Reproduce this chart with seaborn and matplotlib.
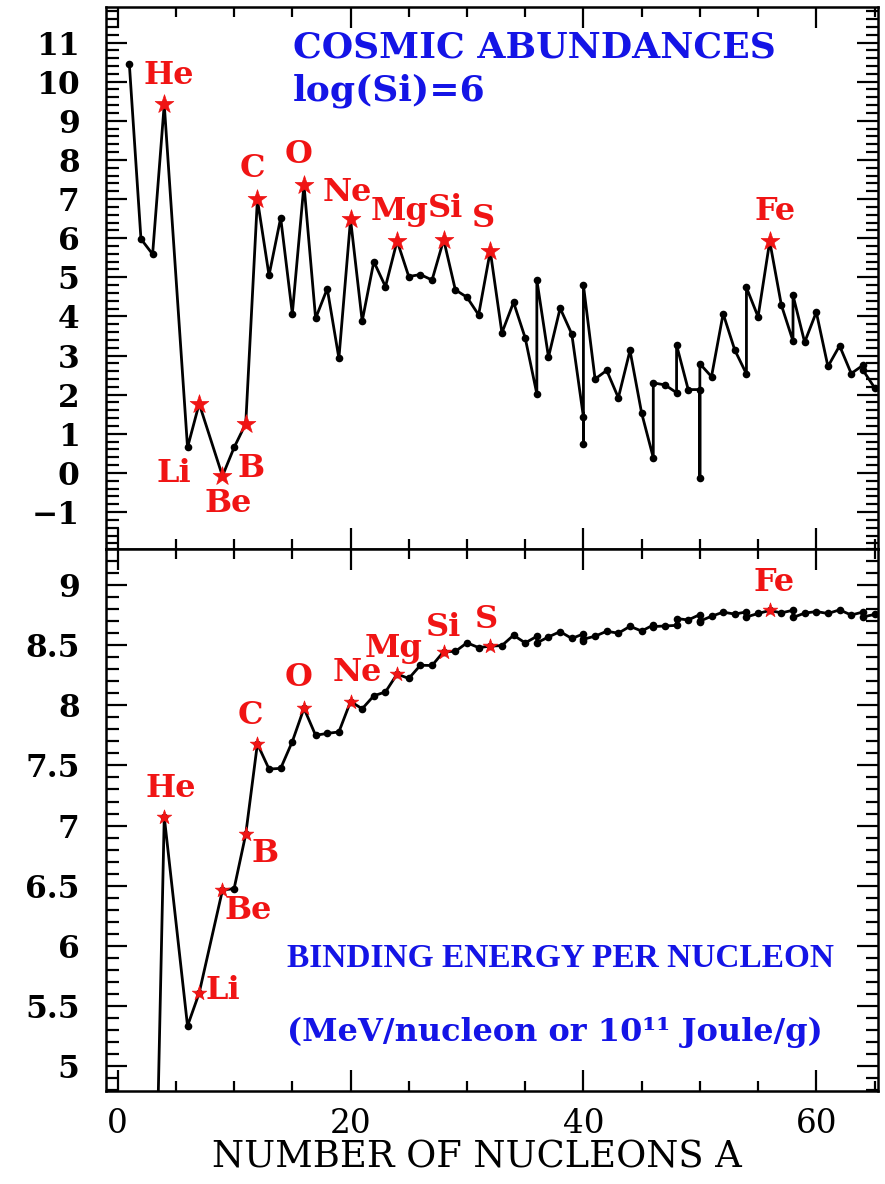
import numpy as np
import pandas as pd
import matplotlib
matplotlib.use('Agg')
import matplotlib.pyplot as plt
from matplotlib.ticker import MultipleLocator, FuncFormatter
import seaborn as sns

# mass number A (several isobars share one A)
mass_number = [1, 2, 3, 4, 6, 7, 9, 10, 11, 12, 13, 14, 15, 16, 17, 18, 19, 20,
               21, 22, 23, 24, 25, 26, 27, 28, 29, 30, 31, 32, 33, 34, 35, 36, 36,
               37, 38, 39, 40, 40, 40, 41, 42, 43, 44, 45, 46, 46, 47, 48, 48, 49,
               50, 50, 50, 51, 52, 53, 54, 54, 55, 56, 57, 58, 58, 59, 60, 61, 62,
               63, 64, 64, 65]

# cosmic abundance, log scale with log(Si)=6
log_abundance = [10.46, 5.98, 5.59, 9.42, 0.65, 1.77, -0.08, 0.65, 1.26, 6.99,
                 5.05, 6.52, 4.07, 7.37, 3.95, 4.71, 2.93, 6.48, 3.88, 5.40,
                 4.76, 5.93, 5.02, 5.07, 4.93, 5.96, 4.68, 4.49, 4.04, 5.67,
                 3.58, 4.36, 3.45, 2.02, 4.93, 2.96, 4.21, 3.55, 1.43, 0.75,
                 4.80, 2.40, 2.62, 1.92, 3.13, 1.53, 0.39, 2.30, 2.25, 2.05,
                 3.27, 2.13, 2.13, -0.14, 2.79, 2.46, 4.07, 3.14, 2.53, 4.74,
                 3.99, 5.92, 4.29, 3.37, 4.54, 3.34, 4.11, 2.72, 3.25, 2.54,
                 2.75, 2.63, 2.18]

# binding energy per nucleon (MeV)
binding_energy = [0.0, 1.112, 2.573, 7.074, 5.332, 5.606, 6.463, 6.475, 6.928, 7.680,
                  7.470, 7.476, 7.699, 7.976, 7.751, 7.767, 7.779, 8.032, 7.972, 8.080,
                  8.112, 8.261, 8.224, 8.334, 8.332, 8.448, 8.449, 8.521, 8.481, 8.493,
                  8.498, 8.584, 8.520, 8.575, 8.520, 8.570, 8.614, 8.557, 8.595, 8.538,
                  8.551, 8.576, 8.617, 8.601, 8.658, 8.619, 8.669, 8.656, 8.661, 8.666,
                  8.723, 8.711, 8.756, 8.696, 8.701, 8.742, 8.776, 8.760, 8.778, 8.736,
                  8.765, 8.790, 8.770, 8.792, 8.732, 8.768, 8.781, 8.765, 8.795, 8.752,
                  8.777, 8.736, 8.757]

elements = ['He', 'Li', 'Be', 'B', 'C', 'O', 'Ne', 'Mg', 'Si', 'S', 'Fe']
element_A = [4, 7, 9, 11, 12, 16, 20, 24, 28, 32, 56]

# label offsets in points (top panel, bottom panel)
offsets_top = [(3.6, 20.5), (-18.5, -50), (4, -19.5), (3.8, -32), (-3.6, 22.5),
               (-4, 21.8), (-2.4, 19.3), (1.5, 21.3), (1.5, 22.5), (-4.8, 23.3), (3.6, 21.3)]
offsets_bot = [(4.8, 20.3), (17.3, 2), (18.7, -14.4), (14.2, -14), (-4.8, 20.3),
               (-4, 22.3), (4.8, 20.8), (-2.4, 18.5), (0, 17), (-2.4, 19), (3, 20)]

RED = '#f01414'
BLUE = '#1414e6'

sns.set_style('ticks')
plt.rcParams['font.family'] = ['DejaVu Serif']
plt.rcParams['axes.unicode_minus'] = True
plt.rcParams['text.color'] = 'black'
plt.rcParams['axes.labelcolor'] = 'black'
plt.rcParams['xtick.color'] = 'black'
plt.rcParams['ytick.color'] = 'black'
plt.rcParams['axes.edgecolor'] = 'black'

df = pd.DataFrame({'A': mass_number, 'abund': log_abundance, 'bind': binding_energy})
stars = pd.DataFrame({'el': elements, 'A': element_A})
stars['abund'] = [df.loc[df.A == a, 'abund'].iloc[0] for a in element_A]
stars['bind'] = [df.loc[df.A == a, 'bind'].iloc[0] for a in element_A]

fig, (ax1, ax2) = plt.subplots(2, 1, figsize=(8.85, 11.84), dpi=100, sharex=True)
fig.subplots_adjust(left=0.1198, right=0.9921, top=0.9938, bottom=0.0785, hspace=0)

for ax, col, offs, ssize in ((ax1, 'abund', offsets_top, 200), (ax2, 'bind', offsets_bot, 120)):
    sns.lineplot(data=df, x='A', y=col, ax=ax, sort=False, estimator=None,
                 color='black', linewidth=2, marker='o', markersize=5.5,
                 markeredgewidth=0)
    sns.scatterplot(data=stars, x='A', y=col, ax=ax, marker='*', s=ssize,
                    color=RED, edgecolor=RED, linewidth=0.5, zorder=5)
    for el, a, y, off in zip(stars.el, stars.A, stars[col], offs):
        ax.annotate(el, (a, y), xytext=off, textcoords='offset points',
                    ha='center', va='center', color=RED, fontsize=23,
                    fontweight='bold')
    ax.set_ylabel('')
    ax.set_xlabel('')
    for s in ax.spines.values():
        s.set_linewidth(1.8)
        s.set_visible(True)
        s.set_color('black')
    ax.xaxis.set_major_locator(MultipleLocator(20))
    ax.xaxis.set_minor_locator(MultipleLocator(5))
    ax.tick_params(which='both', direction='in', top=True, right=True,
                   width=1.6, colors='black', labelcolor='black')
    ax.tick_params(axis='y', which='major', length=15, pad=19, labelsize=22.5)
    ax.tick_params(axis='y', which='minor', length=9)
    ax.tick_params(axis='x', which='major', length=15, pad=12, labelsize=23.5)
    ax.tick_params(axis='x', which='minor', length=7)

ax1.set_xlim(-1, 65.3)
ax1.set_ylim(-1.95, 11.9)
ax1.yaxis.set_major_locator(MultipleLocator(1))
ax1.yaxis.set_minor_locator(MultipleLocator(0.2))
ax1.yaxis.set_major_formatter(FuncFormatter(lambda v, p: f'{v:g}'.replace('-', '\u2212')))

ax2.set_ylim(4.79, 9.3)
ax2.yaxis.set_major_locator(MultipleLocator(0.5))
ax2.yaxis.set_minor_locator(MultipleLocator(0.1))
ax2.yaxis.set_major_formatter(FuncFormatter(lambda v, p: f'{v:g}'))

for ax in (ax1, ax2):
    plt.setp(ax.get_yticklabels(), fontweight='bold')

ax2.set_xlabel('NUMBER OF NUCLEONS A', fontsize=26.5, labelpad=0, color='black')
ax2.xaxis.label.set_x(0.48)

ax1.text(0.242, 0.925, 'COSMIC ABUNDANCES', transform=ax1.transAxes, color=BLUE,
         fontsize=26, fontweight='bold', ha='left', va='center')
ax1.text(0.242, 0.847, 'log(Si)=6', transform=ax1.transAxes, color=BLUE,
         fontsize=26, fontweight='bold', ha='left', va='center')
ax2.text(0.234, 0.245, 'BINDING ENERGY PER NUCLEON', transform=ax2.transAxes,
         color=BLUE, fontsize=24, fontweight='bold', family='Liberation Serif',
         ha='left', va='center')
ax2.text(0.234, 0.109, '(MeV/nucleon or 10\u00b9\u00b9 Joule/g)', transform=ax2.transAxes,
         color=BLUE, fontsize=23, fontweight='bold', ha='left', va='center')

fig.savefig('out.png', dpi=100, facecolor='white')
